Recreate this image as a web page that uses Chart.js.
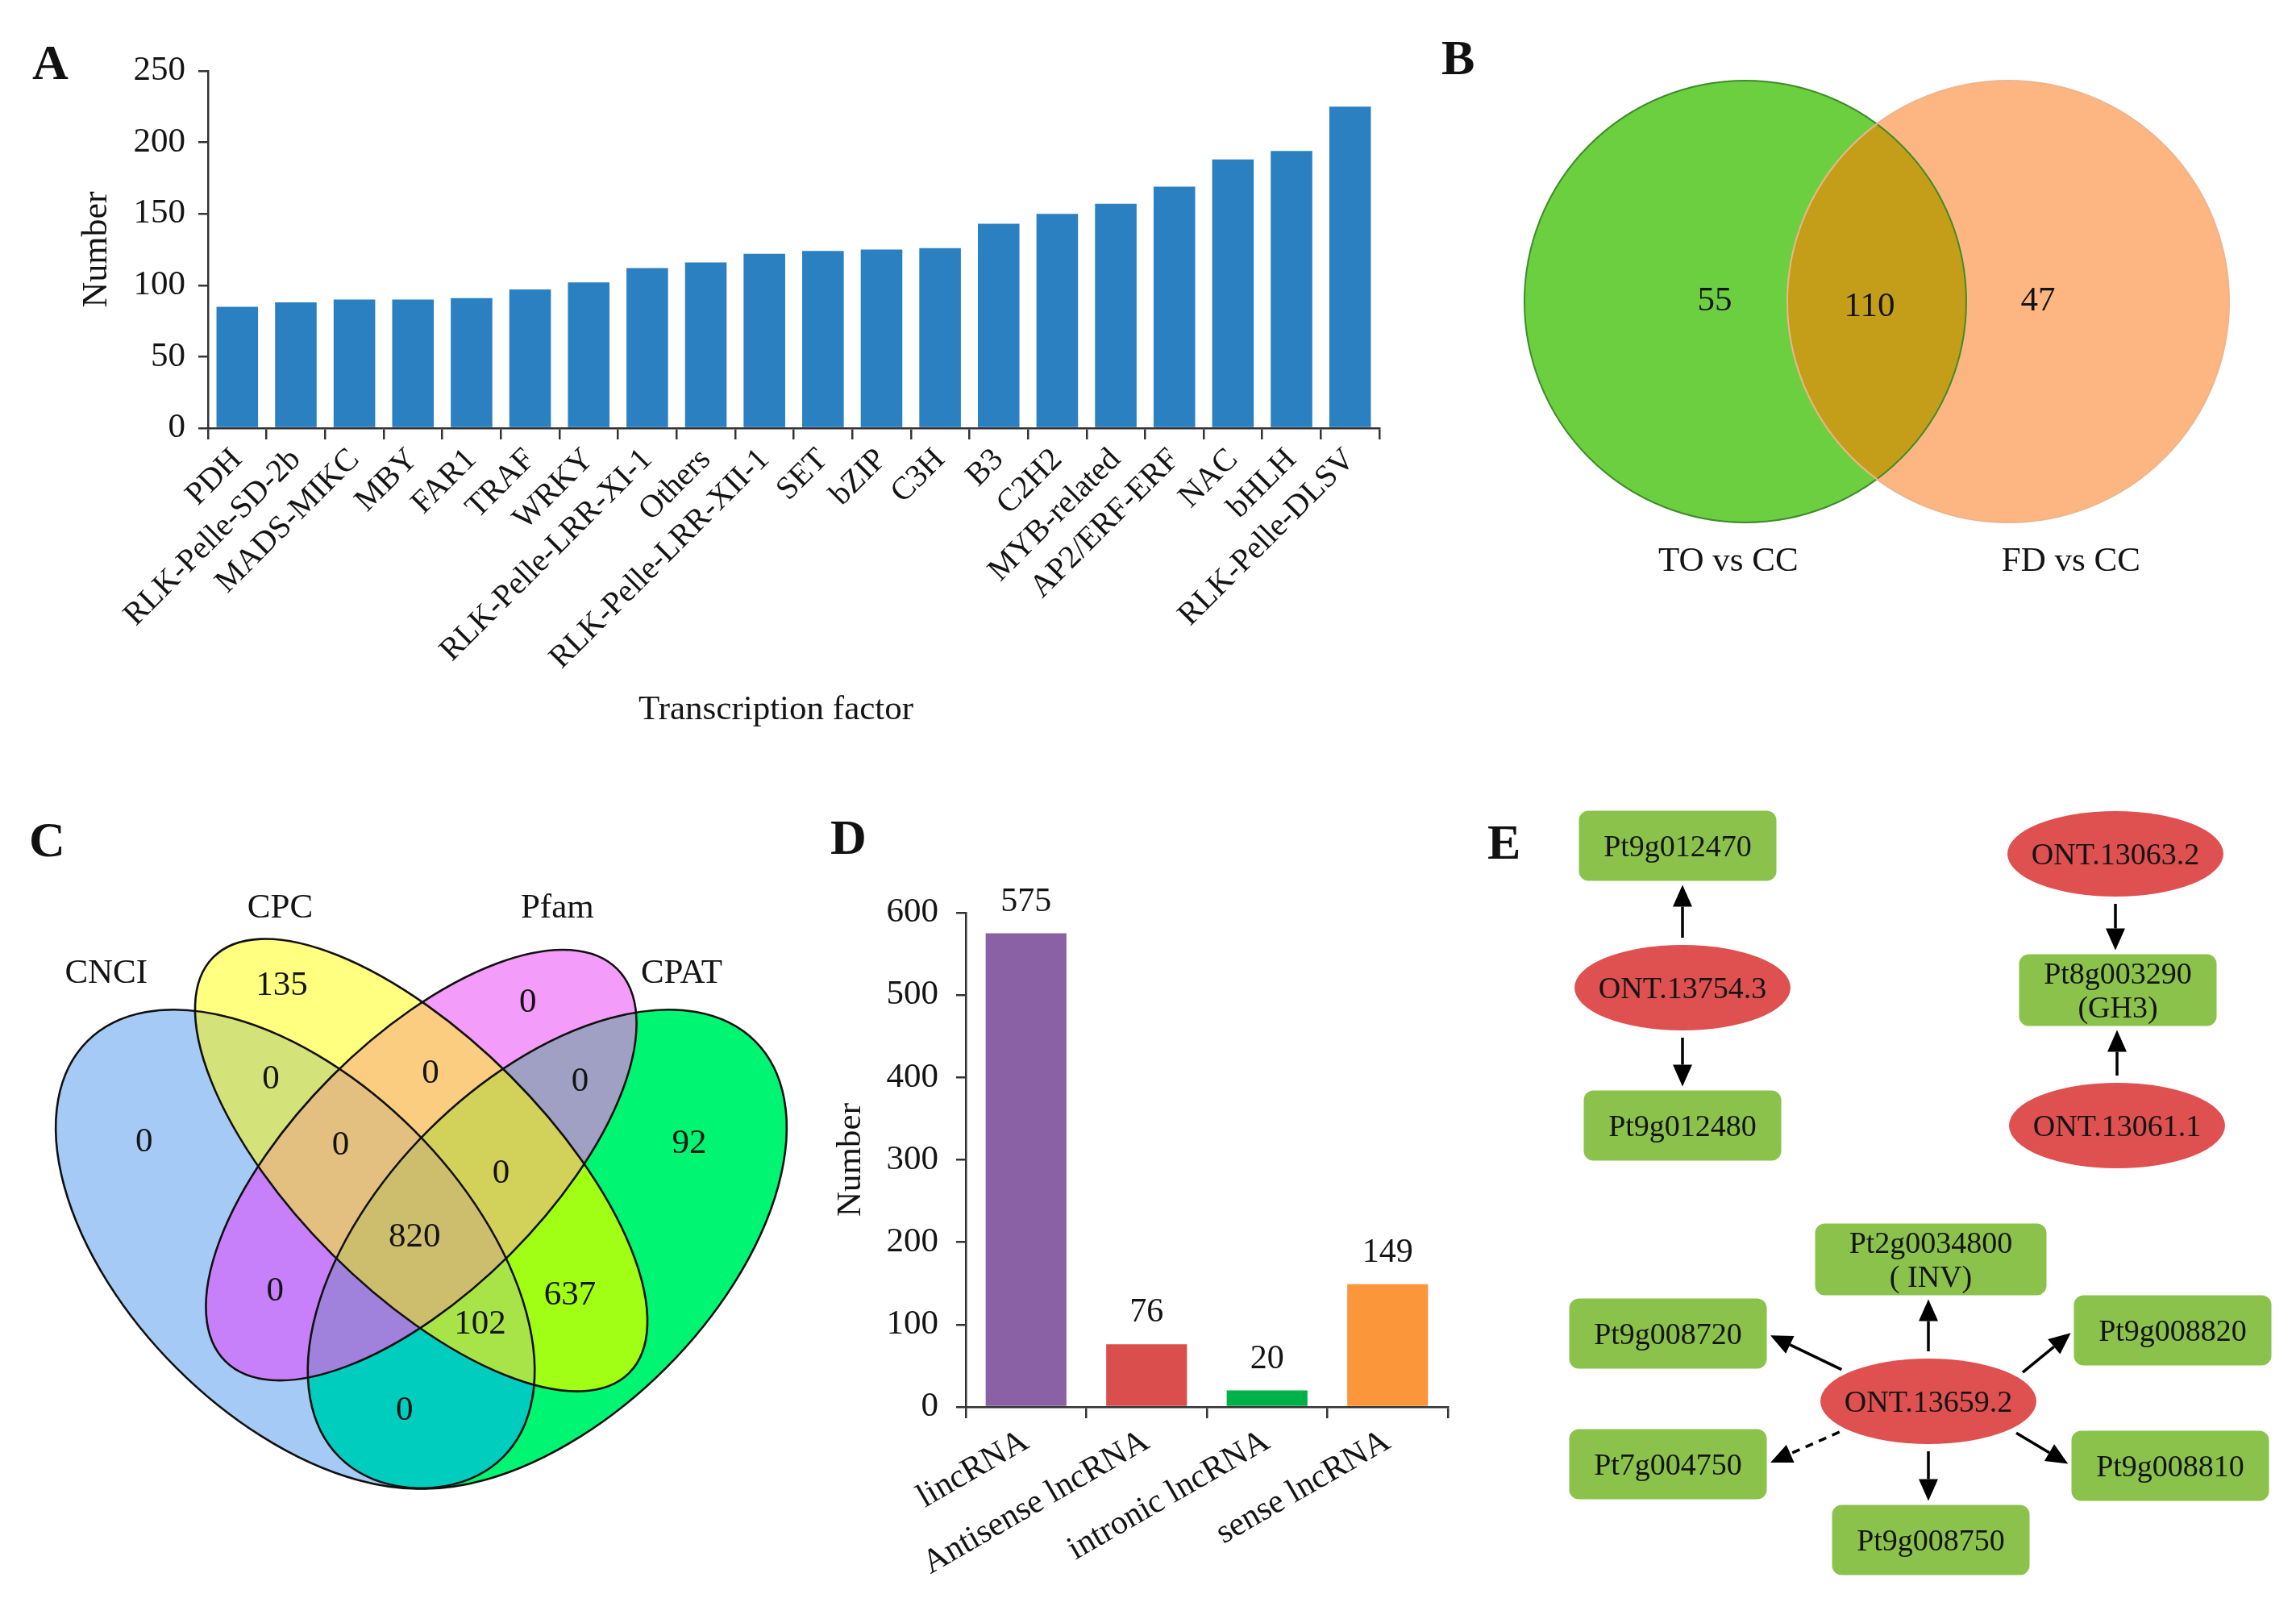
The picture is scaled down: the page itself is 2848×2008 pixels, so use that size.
<!DOCTYPE html>
<html><head><meta charset="utf-8">
<script src="https://cdn.jsdelivr.net/npm/chart.js@4.4.1/dist/chart.umd.min.js"></script>
<style>
html,body{margin:0;padding:0;background:#fff;width:2848px;height:2008px;overflow:hidden;}
.panel{position:absolute;}
.panel canvas{display:block;}
.letter{position:absolute;font-family:'Liberation Serif','Times New Roman',serif;font-weight:bold;font-size:62px;line-height:1;color:#111;}
</style></head><body>
<div class="panel" style="left:0;top:0;width:1760px;height:960px"><canvas id="cA" width="1760" height="960"></canvas></div>
<div class="panel" style="left:1760px;top:0;width:1088px;height:960px"><canvas id="cB" width="1088" height="960"></canvas></div>
<div class="panel" style="left:0;top:960px;width:1000px;height:1048px"><canvas id="cC" width="1000" height="1048"></canvas></div>
<div class="panel" style="left:1000px;top:960px;width:850px;height:1048px"><canvas id="cD" width="850" height="1048"></canvas></div>
<div class="panel" style="left:1850px;top:960px;width:998px;height:1048px"><canvas id="cE" width="998" height="1048"></canvas></div>
<div class="letter" style="left:40px;top:46px">A</div>
<div class="letter" style="left:1788px;top:40px">B</div>
<div class="letter" style="left:36px;top:1010px">C</div>
<div class="letter" style="left:1030px;top:1007px">D</div>
<div class="letter" style="left:1845px;top:1013px">E</div>
<script>
// ---------------- DATA ----------------
// Panel A
const tfCategories = ['PDH','RLK-Pelle-SD-2b','MADS-MIKC','MBY','FAR1','TRAF','WRKY','RLK-Pelle-LRR-XI-1','Others','RLK-Pelle-LRR-XII-1','SET','bZIP','C3H','B3','C2H2','MYB-related','AP2/ERF-ERF','NAC','bHLH','RLK-Pelle-DLSV'];
const tfCounts = [85,88,90,90,91,97,102,112,116,122,124,125,126,143,150,157,169,188,194,225];
const tfAxisMax = 250, tfAxisStep = 50;
// Panel B
const vennBSets = ['TO vs CC','FD vs CC'];
const vennBCounts = [55,110,47]; // TO only, both, FD only
// Panel C
const vennCSets = ['CNCI','CPC','Pfam','CPAT'];
const vennCRegions = ['0','1','2','3','01','12','23','012','123','0123','02','13','013','03'];
const vennCCounts = [0,135,0,92,0,0,0,0,0,820,0,637,102,0];
// Panel D
const lncTypes = ['lincRNA','Antisense lncRNA','intronic lncRNA','sense lncRNA'];
const lncCounts = [575,76,20,149];
const lncAxisMax = 600, lncAxisStep = 100;
// Panel E
const eNodes = ['Pt9g012470','ONT.13754.3','Pt9g012480','ONT.13063.2','Pt8g003290\n(GH3)','ONT.13061.1','Pt2g0034800\n( INV)','Pt9g008720','Pt9g008820','ONT.13659.2','Pt7g004750','Pt9g008810','Pt9g008750'];
const eKinds = ['gene','lnc','gene','lnc','gene','lnc','gene','gene','gene','lnc','gene','gene','gene'];
const eEdges = [[1,0,'solid'],[1,2,'solid'],[3,4,'solid'],[5,4,'solid'],[9,6,'solid'],[9,7,'solid'],[9,8,'solid'],[9,10,'dashed'],[9,11,'solid'],[9,12,'solid']];

// ---------------- STYLE / LAYOUT ----------------
const FONT = "'Liberation Serif','Times New Roman',serif";
const AX = '#333333';
const TXT = '#141414';
Chart.defaults.font.family = FONT;
Chart.defaults.color = TXT;
Chart.defaults.animation = false;
Chart.defaults.responsive = false;
Chart.defaults.plugins.legend.display = false;
Chart.defaults.plugins.tooltip.enabled = false;

// --------------- Panel A ---------------
const xTitleA = {
  id: 'xTitleA',
  afterDraw(chart) {
    const { ctx, chartArea } = chart;
    ctx.save();
    ctx.fillStyle = TXT; ctx.font = '43px ' + FONT; ctx.textAlign = 'center'; ctx.textBaseline = 'middle';
    ctx.fillText('Transcription factor', (chartArea.left + chartArea.right) / 2 - 22, 881);
    ctx.restore();
  }
};
new Chart(document.getElementById('cA'), {
  type: 'bar',
  data: { labels: tfCategories, datasets: [{ data: tfCounts, backgroundColor: '#2b80c2', barPercentage: 0.71, categoryPercentage: 1.0 }] },
  options: {
    layout: { padding: { top: 88, right: 49, left: 0, bottom: 0 } },
    scales: {
      x: {
        grid: { offset: true, drawOnChartArea: false, drawTicks: true, tickLength: 14, color: AX, lineWidth: 2.5 },
        border: { color: AX, width: 2.5 },
        ticks: { autoSkip: false, minRotation: 45, maxRotation: 45, padding: 2, font: { size: 40 }, color: TXT },
        afterFit: s => { s.height = 960 - 531; }
      },
      y: {
        min: 0, max: tfAxisMax,
        grid: { drawOnChartArea: false, drawTicks: true, tickLength: 12, color: AX, lineWidth: 2.5 },
        border: { color: AX, width: 2.5 },
        ticks: { stepSize: tfAxisStep, padding: 16, font: { size: 43 }, color: TXT },
        title: { display: true, text: 'Number', font: { size: 44 }, color: TXT, padding: { top: 94, bottom: 0 } },
        afterFit: s => { s.width = 258; }
      }
    }
  },
  plugins: [xTitleA]
});

// --------------- Panel B (Venn, 2 sets) ---------------
const B_LAYOUT = { circles: [{ x: -0.595, y: 0, r: 1 }, { x: 0.595, y: 0, r: 1 }],
  counts: [{ x: -0.734, y: 0 }, { x: -0.033, y: -0.026 }, { x: 0.73, y: 0 }],
  names: [{ x: -0.672, y: -1.179 }, { x: 0.879, y: -1.179 }],
  fill: ['#6CCF40', '#FDB682'], overlap: '#C49E18', stroke: ['#3E8C2A', '#EDB58C'] };
const vennBPlugin = {
  id: 'vennB',
  afterDraw(chart) {
    const { ctx, scales: { x, y } } = chart;
    const s = x.getPixelForValue(1) - x.getPixelForValue(0);
    const P = B_LAYOUT.circles.map(c => { const p = new Path2D(); p.arc(x.getPixelForValue(c.x), y.getPixelForValue(c.y), c.r * s, 0, Math.PI * 2); return p; });
    ctx.save();
    P.forEach((p, i) => { ctx.fillStyle = B_LAYOUT.fill[i]; ctx.fill(p); });
    ctx.save(); ctx.clip(P[0]); ctx.clip(P[1]); ctx.fillStyle = B_LAYOUT.overlap; ctx.fillRect(0, 0, chart.width, chart.height); ctx.restore();
    P.forEach((p, i) => { ctx.strokeStyle = B_LAYOUT.stroke[i]; ctx.lineWidth = 2; ctx.stroke(p); });
    ctx.fillStyle = TXT; ctx.textAlign = 'center'; ctx.textBaseline = 'middle';
    ctx.font = '43px ' + FONT;
    vennBCounts.forEach((v, i) => { const q = B_LAYOUT.counts[i]; ctx.fillText(String(v), x.getPixelForValue(q.x), y.getPixelForValue(q.y)); });
    vennBSets.forEach((t, i) => { const q = B_LAYOUT.names[i]; ctx.fillText(t, x.getPixelForValue(q.x), y.getPixelForValue(q.y)); });
    ctx.restore();
  }
};
new Chart(document.getElementById('cB'), {
  type: 'scatter', data: { datasets: [] },
  options: { layout: { padding: 0 },
    scales: { x: { display: false, min: -568 / 274, max: (1088 - 568) / 274 }, y: { display: false, min: -(960 - 374) / 274, max: 374 / 274 } } },
  plugins: [vennBPlugin]
});

// --------------- Panel C (Venn, 4 sets) ---------------
const C_LAYOUT = {
  ellipses: [
    { x: 0.35, y: 0.47, a: 0.35, b: 0.20, rot: 135 },
    { x: 0.50, y: 0.57, a: 0.35, b: 0.15, rot: 135 },
    { x: 0.50, y: 0.57, a: 0.33, b: 0.15, rot: 45 },
    { x: 0.65, y: 0.47, a: 0.35, b: 0.20, rot: 45 }
  ],
  colors: { '0': '#A6CAF6', '1': '#FFFF80', '2': '#F49CFA', '3': '#00F573', '01': '#D4E27A', '12': '#FACD80', '23': '#A0A0C4', '02': '#C880FA', '13': '#A0FF14', '03': '#00CDBE', '012': '#E4C080', '123': '#D2D25A', '013': '#A8E448', '023': '#A082DC', '0123': '#CDBE6E' },
  counts: { '0': [0.170, 0.597], '1': [0.334, 0.783], '2': [0.627, 0.763], '3': [0.819, 0.595], '01': [0.321, 0.672], '12': [0.511, 0.679], '23': [0.689, 0.669], '012': [0.404, 0.593], '123': [0.595, 0.560], '0123': [0.492, 0.484], '02': [0.326, 0.420], '13': [0.677, 0.415], '013': [0.570, 0.380], '03': [0.480, 0.278] },
  names: [[0.125, 0.7975], [0.332, 0.876], [0.662, 0.876], [0.810, 0.7975]]
};
const vennCPlugin = {
  id: 'vennC',
  afterDraw(chart) {
    const { ctx, scales: { x, y } } = chart;
    const s = x.getPixelForValue(1) - x.getPixelForValue(0);
    const P = C_LAYOUT.ellipses.map(e => { const p = new Path2D(); p.ellipse(x.getPixelForValue(e.x), y.getPixelForValue(e.y), e.a * s, e.b * s, -e.rot * Math.PI / 180, 0, Math.PI * 2); return p; });
    const keys = Object.keys(C_LAYOUT.colors).sort((a, b) => a.length - b.length);
    ctx.save();
    keys.forEach(k => {
      ctx.save();
      k.split('').forEach(i => ctx.clip(P[+i]));
      ctx.fillStyle = C_LAYOUT.colors[k];
      ctx.fillRect(0, 0, chart.width, chart.height);
      ctx.restore();
    });
    ctx.strokeStyle = '#111'; ctx.lineWidth = 2.6;
    P.forEach(p => ctx.stroke(p));
    ctx.fillStyle = TXT; ctx.textAlign = 'center'; ctx.textBaseline = 'middle';
    ctx.font = '43px ' + FONT;
    vennCRegions.forEach((k, i) => { const q = C_LAYOUT.counts[k]; ctx.fillText(String(vennCCounts[i]), x.getPixelForValue(q[0]), y.getPixelForValue(q[1])); });
    vennCSets.forEach((t, i) => { const q = C_LAYOUT.names[i]; ctx.fillText(t, x.getPixelForValue(q[0]), y.getPixelForValue(q[1])); });
    ctx.restore();
  }
};
new Chart(document.getElementById('cC'), {
  type: 'scatter', data: { datasets: [] },
  options: { layout: { padding: 0 },
    scales: { x: { display: false, min: -1.5 / 1042, max: 998.5 / 1042 }, y: { display: false, min: 31 / 1042, max: 1079 / 1042 } } },
  plugins: [vennCPlugin]
});

// --------------- Panel D ---------------
const lncColors = ['#8B61A5', '#DA4F4D', '#00B049', '#FB963B'];
const valueLabels = {
  id: 'valueLabels',
  afterDatasetsDraw(chart) {
    const { ctx } = chart;
    const meta = chart.getDatasetMeta(0);
    ctx.save();
    ctx.fillStyle = TXT; ctx.font = '42px ' + FONT; ctx.textAlign = 'center'; ctx.textBaseline = 'alphabetic';
    meta.data.forEach((bar, i) => ctx.fillText(String(chart.data.datasets[0].data[i]), bar.x, bar.y - 28));
    ctx.restore();
  }
};
new Chart(document.getElementById('cD'), {
  type: 'bar',
  data: { labels: lncTypes, datasets: [{ data: lncCounts, backgroundColor: lncColors, barPercentage: 0.67, categoryPercentage: 1.0 }] },
  options: {
    layout: { padding: { top: 172, right: 54, left: 0, bottom: 0 } },
    scales: {
      x: {
        grid: { offset: true, drawOnChartArea: false, drawTicks: true, tickLength: 14, color: AX, lineWidth: 2.5 },
        border: { color: AX, width: 2.5 },
        ticks: { autoSkip: false, minRotation: 30, maxRotation: 30, padding: 4, font: { size: 42 }, color: TXT },
        afterFit: s => { s.height = 1048 - 785; }
      },
      y: {
        min: 0, max: lncAxisMax,
        grid: { drawOnChartArea: false, drawTicks: true, tickLength: 12, color: AX, lineWidth: 2.5 },
        border: { color: AX, width: 2.5 },
        ticks: { stepSize: lncAxisStep, padding: 22, font: { size: 43 }, color: TXT },
        title: { display: true, text: 'Number', font: { size: 43 }, color: TXT, padding: { top: 30, bottom: 0 } },
        afterFit: s => { s.width = 198; }
      }
    }
  },
  plugins: [valueLabels]
});

// --------------- Panel E (network) ---------------
const E_LAYOUT = {
  pos: [[231, 89], [237, 265], [237, 436], [774, 99], [777, 268], [776, 436], [545, 602], [219, 694], [845, 690], [542, 778], [219, 856], [842, 858], [545, 950]],
  box: { w: 245, h: 87, wWide: 287, h2: 89, r: 12 },
  ell: { rx: 134, ry: 53 },
  startAngle: [-90, 90, 90, -90, -90, 222, -34.8, 139.6, 40.9, 90],
  geneFill: '#8BC24C', lncFill: '#DF5050'
};
const networkPlugin = {
  id: 'network',
  afterDraw(chart) {
    const { ctx, scales: { x, y } } = chart;
    const L = E_LAYOUT;
    const px = i => x.getPixelForValue(L.pos[i][0]);
    const py = i => y.getPixelForValue(L.pos[i][1]);
    const sizeOf = i => eNodes[i].includes('\n') ? { w: eNodes[i].includes('INV') ? L.box.wWide : L.box.w, h: L.box.h2 } : { w: L.box.w, h: L.box.h };
    ctx.save();
    eNodes.forEach((name, i) => {
      const cx = px(i), cy = py(i);
      ctx.beginPath();
      if (eKinds[i] === 'gene') {
        const { w, h } = sizeOf(i);
        ctx.roundRect(cx - w / 2, cy - h / 2, w, h, L.box.r);
        ctx.fillStyle = L.geneFill;
      } else {
        ctx.ellipse(cx, cy, L.ell.rx, L.ell.ry, 0, 0, Math.PI * 2);
        ctx.fillStyle = L.lncFill;
      }
      ctx.fill();
      ctx.fillStyle = TXT; ctx.font = '38px ' + FONT; ctx.textAlign = 'center'; ctx.textBaseline = 'middle';
      const lines = name.split('\n');
      const lh = 42;
      lines.forEach((t, k) => ctx.fillText(t, cx, cy + 3 + (k - (lines.length - 1) / 2) * lh));
    });
    ctx.strokeStyle = '#000'; ctx.fillStyle = '#000'; ctx.lineWidth = 3.5;
    eEdges.forEach(([a, b, style], k) => {
      const ang = L.startAngle[k] * Math.PI / 180;
      let sx = px(a) + L.ell.rx * Math.cos(ang), sy = py(a) + L.ell.ry * Math.sin(ang);
      const { w, h } = sizeOf(b);
      let ex, ey;
      if (Math.abs(Math.abs(L.startAngle[k]) - 90) < 1) {
        ex = px(a); ey = py(b) + (L.startAngle[k] < 0 ? h / 2 : -h / 2);
      } else {
        ex = px(b) + (px(b) < px(a) ? w / 2 : -w / 2); ey = py(b);
      }
      let dx = ex - sx, dy = ey - sy; const len = Math.hypot(dx, dy); dx /= len; dy /= len;
      sx += dx * 9; sy += dy * 9; ex -= dx * 5; ey -= dy * 5;
      const hl = 27, hw = 12;
      const bx = ex - dx * hl, by = ey - dy * hl;
      ctx.beginPath(); ctx.setLineDash(style === 'dashed' ? [10, 8] : []);
      ctx.moveTo(sx, sy); ctx.lineTo(bx, by); ctx.stroke();
      ctx.setLineDash([]);
      ctx.beginPath(); ctx.moveTo(ex, ey); ctx.lineTo(bx - dy * hw, by + dx * hw); ctx.lineTo(bx + dy * hw, by - dx * hw); ctx.closePath(); ctx.fill();
    });
    ctx.restore();
  }
};
new Chart(document.getElementById('cE'), {
  type: 'scatter', data: { datasets: [] },
  options: { layout: { padding: 0 },
    scales: { x: { display: false, min: 0, max: 998 }, y: { display: false, min: 0, max: 1048, reverse: true } } },
  plugins: [networkPlugin]
});
</script>
</body></html>
